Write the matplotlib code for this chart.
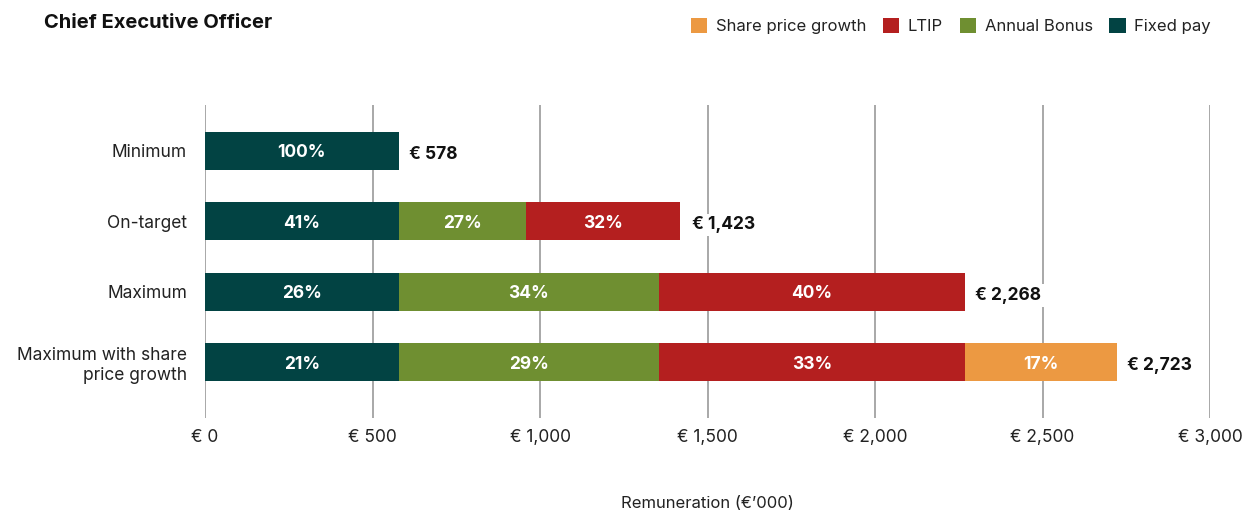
import numpy as np
import matplotlib.pyplot as plt

plt.rcParams['font.family'] = ['Inter', 'DejaVu Sans']

# data (EUR '000)
scenarios = ["Minimum", "On-target", "Maximum", "Maximum with share\nprice growth"]
fixed_pay = [578, 578, 578, 578]
annual_bonus = [0, 380, 777, 777]
ltip = [0, 460, 913, 913]
share_growth = [0, 0, 0, 455]
totals = [578, 1423, 2268, 2723]

fixed_pct = ["100%", "41%", "26%", "21%"]
bonus_pct = ["", "27%", "34%", "29%"]
ltip_pct = ["", "32%", "40%", "33%"]
share_pct = ["", "", "", "17%"]

series = [
    ("Fixed pay", fixed_pay, fixed_pct, "#024343"),
    ("Annual Bonus", annual_bonus, bonus_pct, "#6f8f31"),
    ("LTIP", ltip, ltip_pct, "#b41f1f"),
    ("Share price growth", share_growth, share_pct, "#ec9942"),
]

fig = plt.figure(figsize=(12.46, 5.12), dpi=100)
ax = fig.add_axes([205 / 1246, 1 - 418 / 512, 1005 / 1246, 313 / 512])

ypos = np.arange(len(scenarios))
left = np.zeros(len(scenarios))
handles = []
for name, vals, pcts, color in series:
    vals = np.array(vals, dtype=float)
    bars = ax.barh(ypos, vals, left=left, height=0.54, color=color, label=name, zorder=3)
    handles.append(bars)
    for y, v, l, p in zip(ypos, vals, left, pcts):
        if v > 0 and p:
            ax.text(l + v / 2, y + 0.03, p, ha="center", va="center", color="white",
                    fontsize=12.5, fontweight="bold", zorder=4)
    left += vals

for y, t in zip(ypos, totals):
    ax.text(t + 30, y + 0.05, f"€ {t:,}", ha="left", va="center", fontsize=12.5,
            fontweight="bold", color="#111111", zorder=4,
            bbox=dict(facecolor="white", edgecolor="none", pad=2))

ax.set_xlim(0, 3000)
ax.set_ylim(3.79, -0.65)
ax.set_xticks(np.arange(0, 3001, 500))
ax.set_xticklabels([f"€ {v:,}" for v in range(0, 3001, 500)])
ax.set_yticks(ypos)
ax.set_yticklabels(scenarios)
ax.tick_params(axis="both", length=0, labelsize=12.5, colors="#222222")
ax.tick_params(axis="x", pad=8)
ax.tick_params(axis="y", pad=13)
ax.grid(axis="x", color="#999999", linewidth=1.2, zorder=0)
ax.set_axisbelow(True)
for s in ax.spines.values():
    s.set_visible(False)

fig.text(707 / 1246, 1 - 503 / 512, "Remuneration (€’000)", ha="center", va="center",
         fontsize=12, color="#222222")
fig.text(44 / 1246, 1 - 23 / 512, "Chief Executive Officer", ha="left", va="center",
         fontsize=14.5, fontweight="bold", color="#111111")

order = [3, 2, 1, 0]
fig.legend([handles[i] for i in order], [series[i][0] for i in order],
           loc="center right", bbox_to_anchor=(1226 / 1246, 1 - 26 / 512), ncol=4,
           frameon=False, fontsize=12, handlelength=1.0, handleheight=1.0,
           handletextpad=0.5, columnspacing=1.0, labelcolor="#222222")

fig.savefig("out.png", dpi=100)
